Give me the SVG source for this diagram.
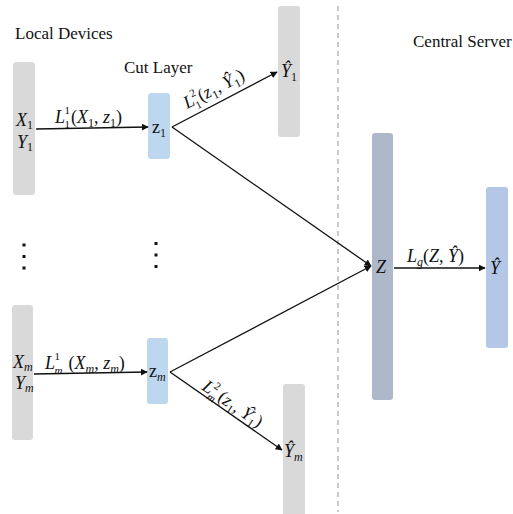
<svg xmlns="http://www.w3.org/2000/svg" width="513" height="514" viewBox="0 0 513 514">
<style>
.t{font-family:"Liberation Serif","Times New Roman",serif;font-size:17px;fill:#111}
.m{font-family:"Liberation Serif","Times New Roman",serif;font-size:18px;font-style:italic;fill:#111}
.r{font-style:normal}
.s{font-size:12px}
.ss{font-size:11px}
.gray{fill:#d9d9d9}
.cut{fill:#bdd7ee}
.srv{fill:#adb9ca}
.out{fill:#b4c7e7}
.ln{stroke:#111;stroke-width:1.3;fill:none;marker-end:url(#ah)}
</style>
<defs>
<marker id="ah" viewBox="0 0 10 10" refX="9" refY="5" markerWidth="7" markerHeight="7" markerUnits="userSpaceOnUse" orient="auto"><path d="M0,0 L10,5 L0,10 z" fill="#111"/></marker>
</defs>
<rect width="513" height="514" fill="#fff"/>
<text class="t" x="15" y="39">Local Devices</text>
<text class="t" x="124" y="73">Cut Layer</text>
<text class="t" x="413" y="47">Central Server</text>
<line x1="338" y1="6" x2="338" y2="512" stroke="#a6a6a6" stroke-width="1.2" stroke-dasharray="5,4"/>
<g id="dev1"><rect class="gray" x="13" y="62" width="22" height="133" rx="3"/>
<text class="m" x="16" y="126">X<tspan class="s r" dy="3">1</tspan></text>
<text class="m" x="17" y="148">Y<tspan class="s r" dy="3">1</tspan></text></g>
<g id="devm"><rect class="gray" x="12" y="305" width="21" height="135" rx="3"/>
<text class="m" x="13" y="368">X<tspan class="s" dy="3">m</tspan></text>
<text class="m" x="15" y="389">Y<tspan class="s" dy="3">m</tspan></text></g>
<g id="z1"><rect class="cut" x="148" y="93" width="22" height="66" rx="3"/>
<text class="t" x="152" y="133" style="font-size:18px">z<tspan class="s" dy="4">1</tspan></text></g>
<g id="zm"><rect class="cut" x="147" y="338" width="21" height="66" rx="3"/>
<text class="t" x="149" y="377" style="font-size:18px">z<tspan class="s m" dy="4">m</tspan></text></g>
<g id="y1hat"><rect class="gray" x="278" y="6" width="22" height="131" rx="3"/>
<text class="m" x="281" y="77">Ŷ<tspan class="s r" dy="4">1</tspan></text></g>
<g id="ymhat"><rect class="gray" x="283" y="384" width="22" height="135" rx="3"/>
<text class="m" x="284" y="457">Ŷ<tspan class="s" dy="4">m</tspan></text></g>
<g id="Z"><rect class="srv" x="372" y="133" width="21" height="267" rx="3"/>
<text class="m" x="376" y="273">Z</text></g>
<g id="Yhat"><rect class="out" x="486" y="187" width="22" height="161" rx="3"/>
<text class="m" x="490" y="274">Ŷ</text></g>
<g id="dots">
<rect x="22.5" y="243.5" width="3" height="3" fill="#111"/><rect x="22.5" y="255" width="3" height="3" fill="#111"/><rect x="22.5" y="266.5" width="3" height="3" fill="#111"/>
<rect x="154.5" y="242" width="3" height="3" fill="#111"/><rect x="154.5" y="253.5" width="3" height="3" fill="#111"/><rect x="154.5" y="265" width="3" height="3" fill="#111"/>
</g>
<g id="connectors">
<line class="ln" x1="36" y1="129" x2="148" y2="127"/>
<line class="ln" x1="34" y1="374" x2="147" y2="372"/>
<line class="ln" x1="172" y1="127" x2="277" y2="72"/>
<line class="ln" x1="172" y1="127" x2="371" y2="266"/>
<line class="ln" x1="170" y1="372" x2="371" y2="266"/>
<line class="ln" x1="170" y1="372" x2="282" y2="450"/>
<line class="ln" x1="394" y1="268" x2="485" y2="268"/>
</g>
<g id="labels">
<text class="m" x="55" y="123">L<tspan class="ss r" x="64.5" y="114">1</tspan><tspan class="ss r" x="64.5" y="128">1</tspan><tspan class="r" x="71" y="123">(</tspan>X<tspan class="s r" dy="4">1</tspan><tspan class="r" dy="-4">, </tspan>z<tspan class="s r" dy="4">1</tspan><tspan class="r" dy="-4">)</tspan></text>
<text class="m" x="45" y="369">L<tspan class="ss r" x="54.5" y="360">1</tspan><tspan class="ss" x="54.5" y="374">m</tspan><tspan class="r" x="64" y="369"> (</tspan>X<tspan class="s" dy="4">m</tspan><tspan class="r" dy="-4">, </tspan>z<tspan class="s" dy="4">m</tspan><tspan class="r" dy="-4">)</tspan></text>
<text class="m" x="407" y="262">L<tspan class="s" dy="4">g</tspan><tspan class="r" dy="-4">(</tspan>Z<tspan class="r">, </tspan>Ŷ<tspan class="r">)</tspan></text>
<text class="m" transform="translate(187,109) rotate(-27)">L<tspan class="ss r" x="9.5" y="-8">2</tspan><tspan class="ss r" x="9.5" y="5">1</tspan><tspan class="r" x="16" y="0">(</tspan>z<tspan class="s r" dy="4">1</tspan><tspan class="r" dy="-4">, </tspan>Ŷ<tspan class="s r" dy="4">1</tspan><tspan class="r" dy="-4">)</tspan></text>
<text class="m" transform="translate(201,389) rotate(34.5)">L<tspan class="ss r" x="9.5" y="-8">2</tspan><tspan class="ss" x="9.5" y="5">m</tspan><tspan class="r" x="19" y="0">(</tspan>z<tspan class="s r" dy="4">1</tspan><tspan class="r" dy="-4">, </tspan>Ŷ<tspan class="s r" dy="4">1</tspan><tspan class="r" dy="-4">)</tspan></text>
</g>
</svg>
